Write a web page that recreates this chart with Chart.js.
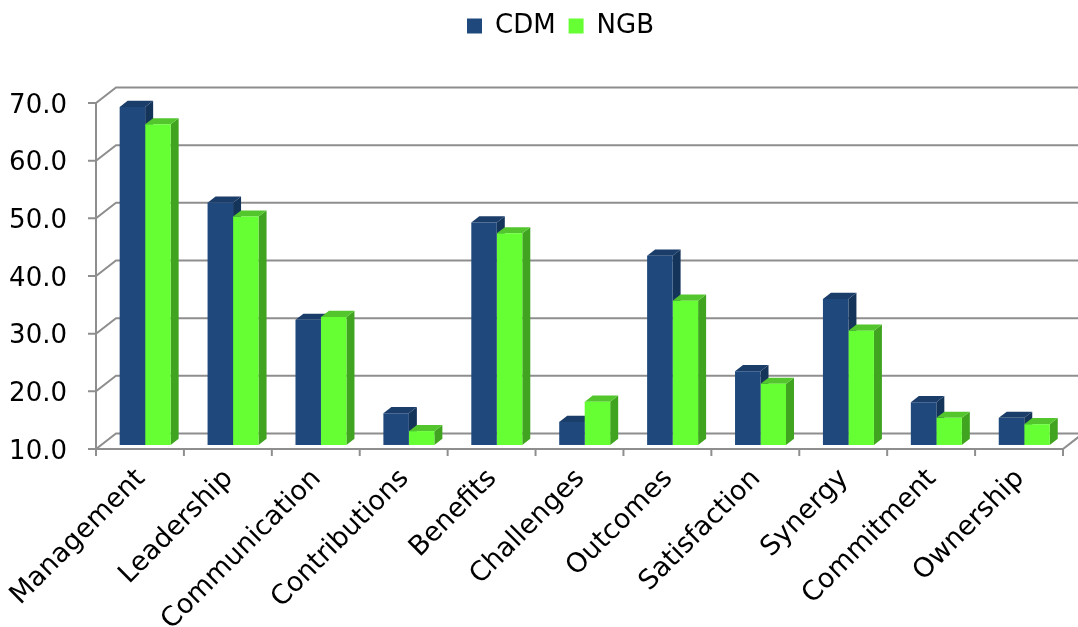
<!DOCTYPE html>
<html>
<head>
<meta charset="utf-8">
<script src="https://cdn.jsdelivr.net/npm/chart.js@4.4.1/dist/chart.umd.min.js"></script>
<style>
    html, body { margin: 0; padding: 0; background: #fff; }
    #contenedor { width: 1078px; height: 627px; }
</style>
</head>
<body>
<div id="contenedor"><canvas id="miGrafica" width="1078" height="627"></canvas></div>
<script>
// Datos de la gráfica
const categorias = ['Management', 'Leadership', 'Communication', 'Contributions', 'Benefits',
    'Challenges', 'Outcomes', 'Satisfaction', 'Synergy', 'Commitment', 'Ownership'];
const valoresCDM = [68.6, 52.0, 31.7, 15.5, 48.6, 14.0, 42.8, 22.8, 35.3, 17.4, 14.7];
const valoresNGB = [65.6, 49.6, 32.2, 12.4, 46.7, 17.5, 35.0, 20.6, 29.8, 14.7, 13.6];
const ejeMin = 10;
const ejeMax = 70;
const ejePaso = 10;

const fuente = 'DejaVu Sans';
const gris = '#8e8e8e';

// Profundidad de la caja 3D (pared del fondo respecto al plano frontal)
const fondo = { x: 20, y: -15.5 };
const planoBarras = 0.26; // donde empieza la cara frontal de las barras
const grosorBarras = 0.4; // profundidad de cada barra

const colores = {
    frente: ['#1f497d', '#66ff33'],
    lado: ['#15345a', '#40a421'],
    tapa: ['#1b3d69', '#52c62c'],
};

// Deja espacio entre la leyenda y el área del gráfico, y la corre un poco a la derecha
const margenLeyenda = {
    id: 'margenLeyenda',
    beforeInit(chart) {
        const fitOriginal = chart.legend.fit;
        chart.legend.fit = function () {
            fitOriginal.call(this);
            this.height = 103;
        };
    },
    afterLayout(chart) {
        chart.legend.left += 29;
        chart.legend.right += 29;
    }
};

function linea(ctx, puntos) {
    ctx.beginPath();
    ctx.moveTo(puntos[0][0], puntos[0][1]);
    for (let i = 1; i < puntos.length; i++) ctx.lineTo(puntos[i][0], puntos[i][1]);
    ctx.stroke();
}

function poligono(ctx, puntos, color) {
    ctx.fillStyle = color;
    ctx.beginPath();
    ctx.moveTo(puntos[0][0], puntos[0][1]);
    for (let i = 1; i < puntos.length; i++) ctx.lineTo(puntos[i][0], puntos[i][1]);
    ctx.closePath();
    ctx.fill();
}

// Paredes, ejes y caras laterales de las barras
const efecto3d = {
    id: 'efecto3d',
    beforeDatasetsDraw(chart) {
        const { ctx, chartArea: a, scales } = chart;
        const y = scales.y;

        ctx.save();
        ctx.strokeStyle = gris;
        ctx.lineWidth = 2;
        y.ticks.forEach(t => {
            const py = y.getPixelForValue(t.value);
            // marca del eje, pared izquierda y línea de la pared del fondo
            linea(ctx, [[a.left - 8, py], [a.left, py], [a.left + fondo.x, py + fondo.y], [chart.width, py + fondo.y]]);
        });
        linea(ctx, [[a.left, a.top], [a.left, a.bottom]]);
        // borde frontal del suelo
        linea(ctx, [[a.left, a.bottom], [a.right, a.bottom], [a.right + fondo.x, a.bottom + fondo.y]]);
        const ancho = (a.right - a.left) / categorias.length;
        for (let i = 0; i <= categorias.length; i++) {
            const px = a.left + ancho * i;
            linea(ctx, [[px, a.bottom], [px, a.bottom + 7]]);
        }
        ctx.restore();

        // Las barras quedan un poco hacia dentro de la caja
        ctx.save();
        ctx.translate(fondo.x * planoBarras, fondo.y * planoBarras);
        const dx = fondo.x * grosorBarras;
        const dy = fondo.y * grosorBarras;
        const metas = [0, 1].map(i => chart.getDatasetMeta(i));

        metas.forEach((meta, i) => meta.data.forEach(bar => {
            const der = bar.x + bar.width / 2;
            poligono(ctx, [[der, bar.base], [der + dx, bar.base + dy], [der + dx, bar.y + dy], [der, bar.y]], colores.lado[i]);
        }));
        metas.forEach((meta, i) => meta.data.forEach(bar => {
            const izq = bar.x - bar.width / 2;
            const der = bar.x + bar.width / 2;
            poligono(ctx, [[izq, bar.y], [der, bar.y], [der + dx, bar.y + dy], [izq + dx, bar.y + dy]], colores.tapa[i]);
        }));
    },
    afterDatasetsDraw(chart) {
        chart.ctx.restore();
    }
};

const ctx = document.getElementById('miGrafica').getContext('2d');

window.myChart = new Chart(ctx, {
    type: 'bar',
    data: {
        labels: categorias,
        datasets: [{
            label: 'CDM',
            data: valoresCDM,
            backgroundColor: colores.frente[0],
            borderWidth: 0,
            base: ejeMin,
            clip: false,
        }, {
            label: 'NGB',
            data: valoresNGB,
            backgroundColor: colores.frente[1],
            borderWidth: 0,
            base: ejeMin,
            clip: false,
        }],
    },
    options: {
        responsive: false,
        animation: false,
        layout: { padding: { left: 0, right: 15, top: 0, bottom: 0 } },
        datasets: {
            bar: { barPercentage: 1, categoryPercentage: 0.58 }
        },
        scales: {
            x: {
                grid: { display: false, drawTicks: false },
                border: { display: false },
                ticks: {
                    autoSkip: false,
                    minRotation: 45,
                    maxRotation: 45,
                    padding: 14,
                    labelOffset: 1,
                    color: '#000',
                    font: { family: fuente, size: 27 },
                },
                afterFit(scale) {
                    scale.height = 178;
                    // las etiquetas inclinadas no deben empujar el área del gráfico
                    scale.paddingLeft = 0;
                    scale.paddingRight = 0;
                },
            },
            y: {
                min: ejeMin,
                max: ejeMax,
                grid: { display: false, drawTicks: false },
                border: { display: false },
                ticks: {
                    stepSize: ejePaso,
                    padding: 29,
                    labelOffset: 3,
                    color: '#000',
                    font: { family: fuente, size: 26 },
                    callback: v => v.toFixed(1),
                },
                afterFit(scale) { scale.width = 96; },
            },
        },
        plugins: {
            legend: {
                position: 'top',
                labels: {
                    boxWidth: 15,
                    boxHeight: 15,
                    padding: 13,
                    color: '#000',
                    font: { family: fuente, size: 26 },
                },
            },
            tooltip: { enabled: false },
        },
    },
    plugins: [margenLeyenda, efecto3d],
});
</script>
</body>
</html>
